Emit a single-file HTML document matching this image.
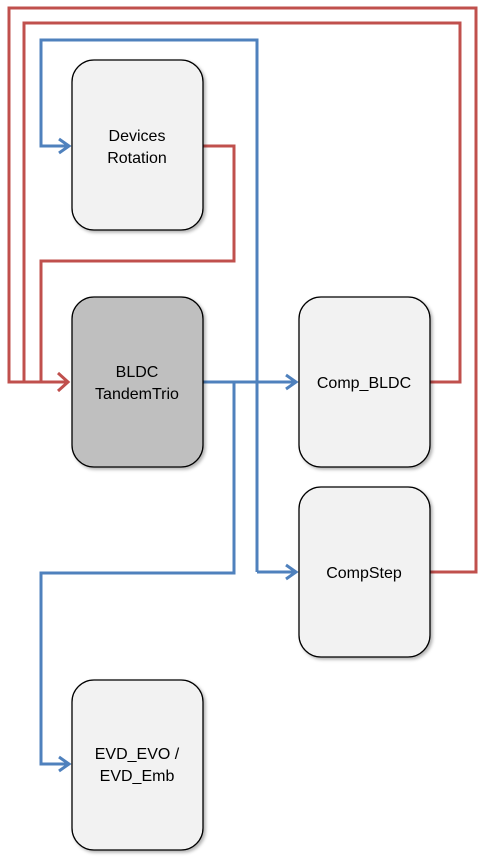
<!DOCTYPE html>
<html><head><style>
body{margin:0;background:#fff;width:487px;height:860px;overflow:hidden}
svg{display:block}
text{font-family:"Liberation Sans",sans-serif;font-size:16px;fill:#000;text-anchor:middle}
</style></head><body>
<svg width="487" height="860" viewBox="0 0 487 860">
<defs>
<filter id="sh" x="-10%" y="-10%" width="130%" height="130%"><feDropShadow dx="2" dy="2" stdDeviation="1.5" flood-color="#000" flood-opacity="0.3"/></filter>
</defs>
<g fill="none" stroke-width="3" stroke-linejoin="miter">
<polyline stroke="#c0504d" points="430,572 476,572 476,8 9,8 9,382 66,382"/>
<polyline stroke="#c0504d" points="430,382 460,382 460,23 24,23 24,382 66,382"/>
<polyline stroke="#c0504d" points="203,146 234,146 234,261 41,261 41,382 66,382"/>
<polyline stroke="#c0504d" points="58,373 68,382 58,391"/>
<polyline stroke="#4f81bd" points="257,572 257,40 41,40 41,146 68,146"/>
<polyline stroke="#4f81bd" points="59,139 69,146 59,153"/>
<polyline stroke="#4f81bd" points="203,382 295,382"/>
<polyline stroke="#4f81bd" points="286,375 296,382 286,389"/>
<polyline stroke="#4f81bd" points="257,572 295,572"/>
<polyline stroke="#4f81bd" points="286,565 296,572 286,579"/>
<polyline stroke="#4f81bd" points="234,382 234,573 41,573 41,764 68,764"/>
<polyline stroke="#4f81bd" points="59,757 69,764 59,771"/>
</g>
<g stroke="#000" stroke-width="1.3" filter="url(#sh)">
<rect x="72" y="60" width="131" height="170" rx="22" fill="#f2f2f2"/>
<rect x="72" y="297" width="131" height="170" rx="22" fill="#bfbfbf"/>
<rect x="299" y="297" width="131" height="170" rx="22" fill="#f2f2f2"/>
<rect x="299" y="487" width="131" height="170" rx="22" fill="#f2f2f2"/>
<rect x="72" y="680" width="131" height="170" rx="22" fill="#f2f2f2"/>
</g>
<text x="137" y="141">Devices</text>
<text x="137" y="163">Rotation</text>
<text x="137" y="377">BLDC</text>
<text x="137" y="399">TandemTrio</text>
<text x="364" y="388">Comp_BLDC</text>
<text x="364" y="578">CompStep</text>
<text x="137" y="759">EVD_EVO /</text>
<text x="137" y="781">EVD_Emb</text>
</svg>
</body></html>
